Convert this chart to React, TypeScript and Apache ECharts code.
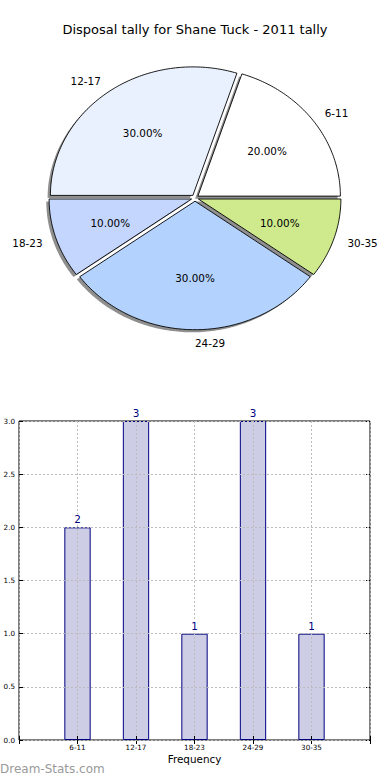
import React, { useEffect, useRef } from 'react';
import * as echarts from 'echarts';

const titleText = 'Disposal tally for Shane Tuck - 2011 tally';
const categories = ['6-11', '12-17', '18-23', '24-29', '30-35'];
const counts = [2, 3, 1, 3, 1];
const sliceColors = ['#ffffff', '#eaf1fe', '#c4d6fe', '#b3d3fe', '#ceea8c'];
const xAxisLabel = 'Frequency';
const watermark = 'Dream-Stats.com';

const FONT = 'DejaVu Sans';

export default function App() {
  const ref = useRef<HTMLDivElement>(null);
  useEffect(() => {
    const chart = echarts.init(ref.current!, null, { renderer: 'svg' });
    const total = counts.reduce((a, b) => a + b, 0);
    const CX = 195, CY = 198, RX = 142.5, RY = 128.5, EXP = 0.025;

    const renderPie = (params: any, api: any) => {
      const i = params.dataIndex;
      const v = api.value(0);
      let before = 0;
      for (let k = 0; k < i; k++) before += counts[k];
      const a0 = (before / total) * 2 * Math.PI;
      const a1 = ((before + v) / total) * 2 * Math.PI;
      const mid = (a0 + a1) / 2;
      const cx = CX + EXP * RX * Math.cos(mid);
      const cy = CY - EXP * RY * Math.sin(mid);
      const pts: number[][] = [[cx, cy]];
      const n = Math.max(8, Math.ceil((a1 - a0) / (Math.PI / 180)));
      for (let s = 0; s <= n; s++) {
        const a = a0 + ((a1 - a0) * s) / n;
        pts.push([cx + RX * Math.cos(a), cy - RY * Math.sin(a)]);
      }
      const shadow = pts.map((p) => [p[0] - 2.8, p[1] + 2.6]);
      const lx = cx + 1.1 * RX * Math.cos(mid);
      const ly = cy - 1.1 * RY * Math.sin(mid);
      const px = cx + 0.6 * RX * Math.cos(mid);
      const py = cy - 0.6 * RY * Math.sin(mid);
      return {
        type: 'group',
        children: [
          { type: 'polygon', z2: 0, shape: { points: shadow }, style: { fill: '#8f8f8f' } },
          {
            type: 'polygon',
            z2: 10,
            shape: { points: pts },
            style: { fill: sliceColors[i], stroke: '#000', lineWidth: 0.9 },
          },
          {
            type: 'text',
            z2: 20,
            style: {
              text: categories[i],
              x: lx,
              y: ly,
              align: Math.cos(mid) > -1e-6 ? 'left' : 'right',
              verticalAlign: 'middle',
              fontSize: 10.4,
              fontFamily: FONT,
              fill: '#000',
            },
          },
          {
            type: 'text',
            z2: 20,
            style: {
              text: ((v / total) * 100).toFixed(2) + '%',
              x: px,
              y: py,
              align: 'center',
              verticalAlign: 'middle',
              fontSize: 10.4,
              fontFamily: FONT,
              fill: '#000',
            },
          },
        ],
      };
    };

    const xData = ['', ...categories, ' '];
    const barData: any[] = ['-', ...counts, '-'];
    const grid = { left: 19, top: 421, width: 351, height: 319 };
    const gridLine = { type: [2, 2], color: '#bcbcbc', width: 1 };

    chart.setOption({
      animation: false,
      title: {
        text: titleText,
        left: 'center',
        top: 23,
        padding: 0,
        textStyle: { fontSize: 13, fontWeight: 'normal', color: '#000', fontFamily: FONT },
      },
      grid: { ...grid, show: true, borderColor: '#000', borderWidth: 1, backgroundColor: 'transparent' },
      xAxis: [
        {
          type: 'category',
          data: xData,
          boundaryGap: false,
          z: 5,
          axisLine: { show: false },
          axisTick: { show: true, inside: true, length: 4, interval: 0, lineStyle: { color: '#000' } },
          axisLabel: { interval: 0, fontSize: 7.2, fontFamily: FONT, color: '#000', margin: 4 },
          splitLine: { show: true, interval: 0, lineStyle: gridLine },
          name: xAxisLabel,
          nameLocation: 'middle',
          nameGap: 14,
          nameTextStyle: { fontSize: 10.4, fontFamily: FONT, color: '#000' },
        },
        {
          type: 'category',
          data: xData,
          boundaryGap: false,
          position: 'top',
          axisLine: { show: false },
          axisTick: { show: true, inside: true, length: 4, interval: 0, lineStyle: { color: '#000' } },
          axisLabel: { show: false },
          splitLine: { show: false },
        },
      ],
      yAxis: [
        {
          type: 'value',
          min: 0,
          max: 3,
          interval: 0.5,
          z: 5,
          axisLine: { show: false },
          axisTick: { show: true, inside: true, length: 4, lineStyle: { color: '#000' } },
          axisLabel: {
            fontSize: 7.2,
            fontFamily: FONT,
            color: '#000',
            margin: 4,
            formatter: (val: number) => val.toFixed(1),
          },
          splitLine: { show: true, lineStyle: gridLine },
        },
        {
          type: 'value',
          min: 0,
          max: 3,
          interval: 0.5,
          position: 'right',
          axisLine: { show: false },
          axisTick: { show: true, inside: true, length: 4, lineStyle: { color: '#000' } },
          axisLabel: { show: false },
          splitLine: { show: false },
        },
      ],
      graphic: [
        {
          type: 'text',
          left: 0,
          top: 763,
          style: { text: watermark, fill: '#9a9a9a', fontSize: 12, fontFamily: FONT },
        },
      ],
      series: [
        {
          type: 'custom',
          coordinateSystem: 'none',
          renderItem: renderPie,
          data: counts.map((v) => [v]),
          silent: true,
        },
        {
          type: 'bar',
          xAxisIndex: 0,
          yAxisIndex: 0,
          data: barData,
          barWidth: '45%',
          z: 2,
          itemStyle: { color: '#cdcde6', borderColor: '#000080', borderWidth: 1 },
          silent: true,
        },
        {
          type: 'bar',
          xAxisIndex: 0,
          yAxisIndex: 0,
          data: barData,
          barWidth: '45%',
          barGap: '-100%',
          z: 10,
          itemStyle: { color: 'rgba(0,0,0,0)', borderWidth: 0 },
          label: {
            show: true,
            position: 'top',
            distance: 3,
            color: '#000080',
            fontSize: 10.4,
            fontFamily: FONT,
            backgroundColor: '#fff',
            padding: [0, 1, 0, 1],
          },
          silent: true,
        },
      ],
    });
    return () => chart.dispose();
  }, []);
  return (
    <div
      ref={ref}
      style={{ position: 'fixed', left: 0, top: 0, width: 390, height: 780, background: '#fff' }}
    />
  );
}
